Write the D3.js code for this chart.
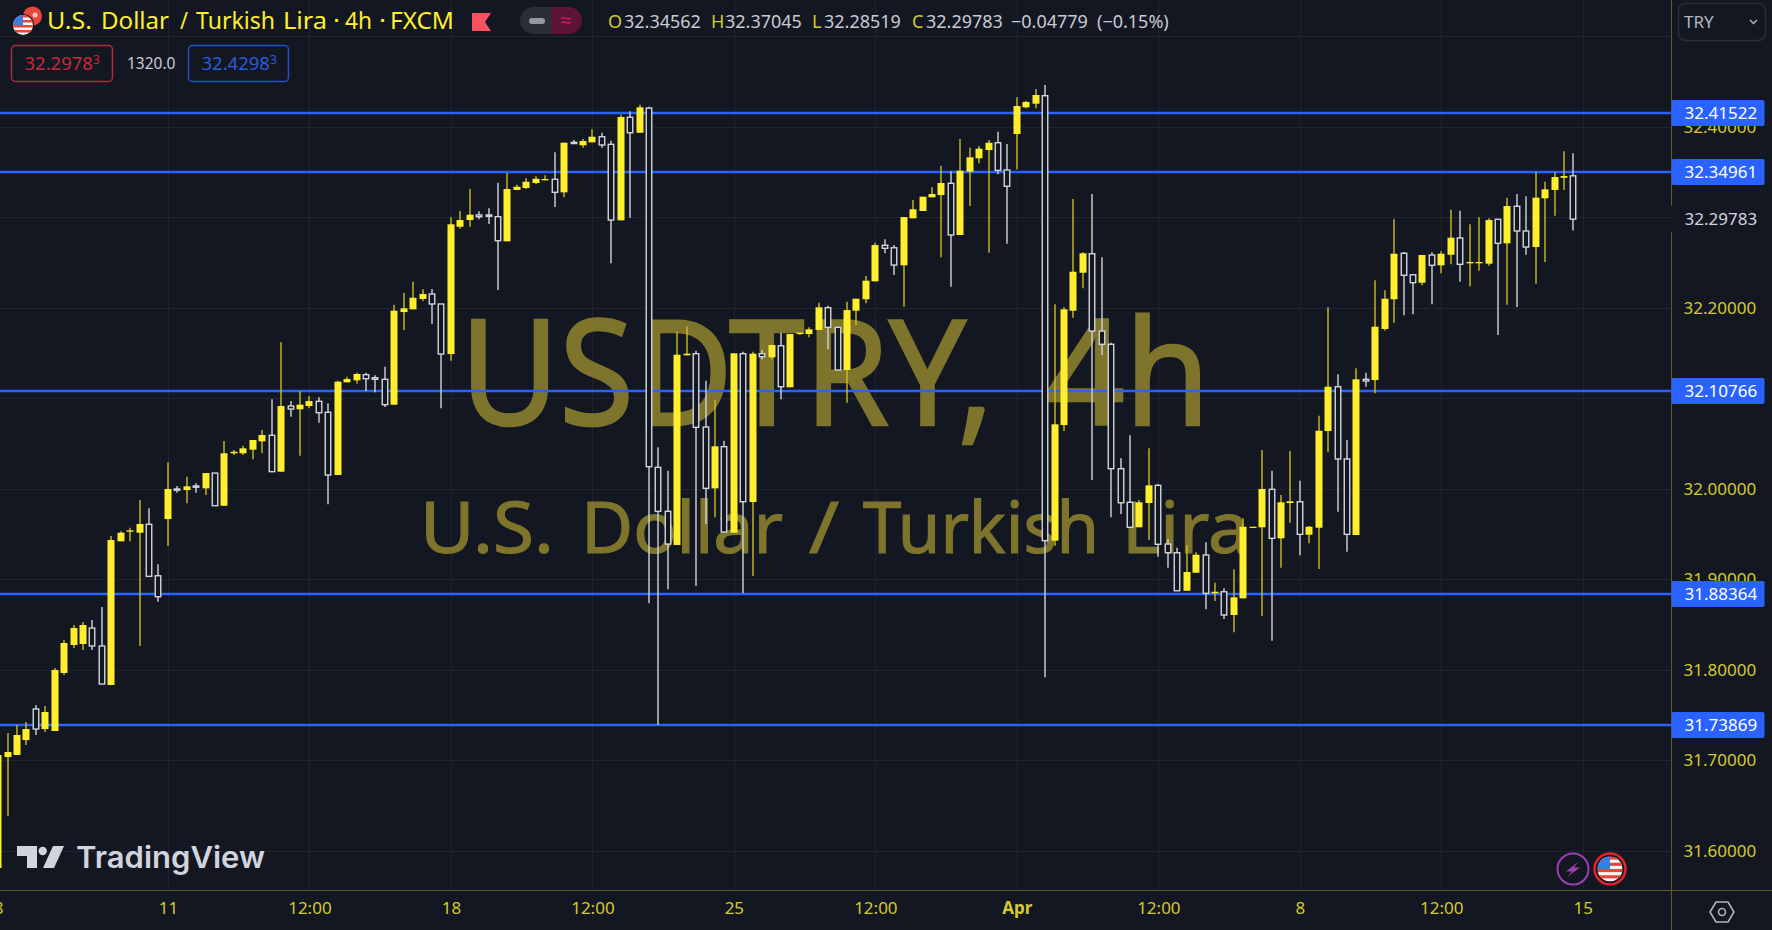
<!DOCTYPE html>
<html>
<head>
<meta charset="utf-8">
<script src="https://cdn.jsdelivr.net/npm/d3@7"></script>
<style>
  html, body { margin: 0; padding: 0; background: #131722; overflow: hidden; }
  svg { display: block; }
  text { font-family: "Noto Sans", sans-serif; }
</style>
</head>
<body>
<svg></svg>
<script>
// Candles, oldest first (USDTRY 4h)
const opens = [31.5812,31.7038,31.7060,31.7225,31.7568,31.7347,31.7325,31.7966,31.8275,31.8286,31.8462,31.8264,31.7833,31.9420,31.9526,31.9515,31.9608,31.9040,31.9666,31.9998,31.9986,32.0031,32.0005,32.0174,31.9813,32.0392,32.0392,32.0432,32.0524,32.0591,32.0189,32.0914,32.0878,32.0914,32.0966,32.0845,32.0152,32.1176,32.1198,32.1260,32.1227,32.1209,32.0929,32.1952,32.1982,32.2096,32.2151,32.2041,32.1488,32.2894,32.2968,32.3024,32.3024,32.3005,32.2733,32.3300,32.3322,32.3377,32.3407,32.3418,32.3274,32.3826,32.3793,32.3826,32.3888,32.3804,32.2965,32.4103,32.3932,32.4205,32.0237,31.9751,31.9379,32.1474,32.1492,32.0682,32.0005,32.0465,31.9515,32.1492,31.9854,32.1492,32.1452,32.1580,32.1121,32.1709,32.1709,32.1754,32.2000,32.1783,32.1312,32.1967,32.2093,32.2291,32.2689,32.2662,32.2468,32.2987,32.3068,32.3219,32.3244,32.3374,32.2803,32.3502,32.3650,32.3741,32.3822,32.3521,32.3918,32.4213,32.4253,32.4341,31.9427,32.0704,32.1967,32.2386,32.2596,32.1742,32.1596,32.0222,31.9851,31.9575,31.9843,32.0038,31.9390,31.9294,31.8874,31.9073,31.9269,31.8846,31.8863,31.8606,31.8790,31.9570,31.9575,31.9994,31.9453,31.9843,31.9857,31.9493,31.9570,32.0638,32.1127,32.0329,31.9489,32.1209,32.1201,32.1765,32.2093,32.2601,32.2364,32.2276,32.2582,32.2468,32.2585,32.2770,32.2490,32.2490,32.2486,32.2976,32.2711,32.3120,32.2847,32.2670,32.3208,32.3300,32.3435,32.34562];
const highs = [31.7060,31.7303,31.7391,31.7424,31.7612,31.7601,31.8021,31.8330,31.8496,31.8529,31.8551,31.8694,31.9478,31.9530,31.9570,31.9876,31.9784,31.9166,32.0292,32.0031,32.0133,32.0060,32.0174,32.0174,32.0528,32.0428,32.0476,32.0539,32.0649,32.0988,32.1618,32.0969,32.1077,32.1025,32.1010,32.0944,32.1194,32.1238,32.1282,32.1282,32.1253,32.1348,32.2033,32.2165,32.2287,32.2203,32.2206,32.2041,32.2998,32.3068,32.3311,32.3064,32.3098,32.3380,32.3487,32.3358,32.3432,32.3451,32.3462,32.3716,32.3822,32.3852,32.3863,32.3970,32.3932,32.3844,32.4131,32.4169,32.4242,32.4220,32.0458,32.0200,32.1735,32.1790,32.1525,32.1194,32.0980,32.0531,32.1496,32.1514,32.1514,32.1533,32.1588,32.1724,32.1709,32.1724,32.1783,32.2055,32.2022,32.1783,32.2066,32.2099,32.2350,32.2718,32.2755,32.2692,32.3001,32.3189,32.3226,32.3329,32.3568,32.3510,32.3863,32.3767,32.3786,32.3852,32.3944,32.3808,32.4323,32.4283,32.4415,32.4459,32.2037,32.2004,32.3200,32.2612,32.3255,32.2556,32.1613,32.0337,32.0591,31.9876,32.0447,32.0053,31.9445,31.9349,31.9379,31.9298,31.9409,31.8963,31.8901,31.9111,31.9674,31.9581,32.0428,32.0200,31.9931,32.0417,32.0089,31.9589,32.0807,32.2004,32.1264,32.0539,32.1331,32.1282,32.2302,32.2192,32.2976,32.2615,32.2372,32.2582,32.2612,32.2623,32.3082,32.3071,32.2921,32.2998,32.2987,32.2976,32.3215,32.3255,32.3230,32.3495,32.3391,32.3495,32.3727,32.37045];
const lows = [31.5812,31.6386,31.7060,31.7170,31.7281,31.7314,31.7325,31.7943,31.8242,31.8219,31.8219,31.7844,31.7833,31.9420,31.9420,31.8264,31.9033,31.8753,31.9368,31.9957,31.9840,31.9957,31.9931,31.9813,31.9813,32.0373,32.0373,32.0325,32.0392,32.0189,32.0189,32.0796,32.0365,32.0889,32.0730,31.9829,32.0152,32.1176,32.1160,32.1080,32.1065,32.0903,32.0929,32.1754,32.1982,32.2074,32.1820,32.0889,32.1414,32.2872,32.2894,32.2976,32.2924,32.2195,32.2733,32.3300,32.3311,32.3366,32.3407,32.3112,32.3219,32.3815,32.3767,32.3826,32.3767,32.2490,32.2965,32.2994,32.3932,31.8735,31.7391,31.8890,31.9379,32.1474,31.8926,31.9611,31.9685,31.9523,31.9515,31.8846,31.9037,32.1430,32.1430,32.0988,32.1121,32.1698,32.1673,32.1754,32.1540,32.1312,32.0951,32.1809,32.2048,32.2291,32.2601,32.2361,32.2011,32.2987,32.3068,32.3219,32.2556,32.2232,32.2803,32.3123,32.3595,32.2607,32.3473,32.2707,32.3528,32.4202,32.4202,31.7918,31.9371,32.0638,32.1889,32.2214,32.0097,32.1477,31.9685,31.9721,31.9575,31.9575,31.9434,31.9250,31.9128,31.8874,31.8874,31.9073,31.8669,31.8761,31.8562,31.8415,31.8790,31.9570,31.8595,31.8322,31.9128,31.9625,31.9265,31.9398,31.9114,32.0403,31.9747,31.9305,31.9489,32.1127,32.1054,32.1746,32.1834,32.1916,32.1927,32.2247,32.2037,32.2380,32.2479,32.2287,32.2236,32.2408,32.2464,32.1698,32.2033,32.2008,32.2585,32.2265,32.2505,32.3016,32.3300,32.28519];
const closes = [31.7060,31.7093,31.7281,31.7347,31.7347,31.7535,31.7999,31.8297,31.8462,31.8496,31.8264,31.7844,31.9434,31.9515,31.9541,31.9611,31.9033,31.8808,31.9998,31.9990,32.0027,32.0020,32.0174,31.9813,32.0392,32.0409,32.0447,32.0539,32.0594,32.0189,32.0914,32.0881,32.0929,32.0969,32.0840,32.0152,32.1183,32.1212,32.1268,32.1216,32.1209,32.0929,32.1967,32.1993,32.2110,32.2151,32.2041,32.1488,32.2921,32.2968,32.3027,32.3005,32.3009,32.2740,32.3311,32.3336,32.3391,32.3424,32.3421,32.3274,32.3822,32.3815,32.3841,32.3888,32.3797,32.2968,32.4106,32.3932,32.4213,32.0244,31.9751,31.9390,32.1481,32.1492,32.0679,32.0005,32.0469,31.9523,32.1496,31.9857,32.1492,32.1459,32.1588,32.1127,32.1709,32.1724,32.1761,32.2004,32.1783,32.1312,32.1974,32.2099,32.2298,32.2692,32.2656,32.2471,32.3001,32.3087,32.3226,32.3255,32.3377,32.2803,32.3513,32.3661,32.3756,32.3822,32.3517,32.3341,32.4227,32.4272,32.4349,31.9427,32.0712,32.1982,32.2397,32.2601,32.1742,32.1596,32.0222,31.9846,31.9575,31.9851,32.0038,31.9387,31.9294,31.8874,31.9081,31.9272,31.8846,31.8863,31.8606,31.8801,31.9581,31.9581,31.9998,31.9453,31.9851,31.9862,31.9497,31.9581,32.0641,32.1127,32.0329,31.9497,32.1209,32.1190,32.1790,32.2099,32.2596,32.2358,32.2276,32.2582,32.2468,32.2596,32.2773,32.2479,32.2505,32.2505,32.2968,32.2711,32.3123,32.2847,32.2670,32.3215,32.3307,32.3443,32.3454,32.29783];

// Horizontal levels drawn by the author
const levels = [32.41522, 32.34961, 32.10766, 31.88364, 31.73869];
const lastPrice = 32.29783;

// Axis ticks
const priceTicks = [31.6, 31.7, 31.8, 31.9, 32.0, 32.1, 32.2, 32.3, 32.4];
const priceGrid = [31.6, 31.7, 31.8, 31.9, 32.0, 32.1, 32.2, 32.3, 32.4, 32.5];
const timeTickIndex = [0, 18, 33, 48, 63, 78, 93, 108, 123, 138, 153, 168];
const timeTickLabels = ["8", "11", "12:00", "18", "12:00", "25", "12:00", "Apr", "12:00", "8", "12:00", "15"];

// Legend values
const legendParts = [
    { x: 608, text: "O", key: true }, { x: 624, text: "32.34562" },
    { x: 711, text: "H", key: true }, { x: 725, text: "32.37045" },
    { x: 812, text: "L", key: true }, { x: 824, text: "32.28519" },
    { x: 912, text: "C", key: true }, { x: 926, text: "32.29783" },
    { x: 1011, text: "\u22120.04779" }, { x: 1097, text: "(\u22120.15%)" }
];

// Header and watermark words, set word by word because the spacing is wide
const headerWords = [
    { x: 47, w: 45, text: "U.S." }, { x: 101, w: 68, text: "Dollar" },
    { x: 180, w: 8, text: "/" }, { x: 196, w: 79, text: "Turkish" },
    { x: 283, w: 44, text: "Lira" }, { x: 333, w: 7, text: "\u00b7" },
    { x: 345, w: 27, text: "4h" }, { x: 379, w: 7, text: "\u00b7" },
    { x: 390, w: 64, text: "FXCM" }
];
const watermarkWords = [
    { x: 420, w: 134, text: "U.S." }, { x: 581, w: 202, text: "Dollar" },
    { x: 809, w: 30, text: "/" }, { x: 863, w: 236, text: "Turkish" },
    { x: 1122, w: 127, text: "Lira" }
];

// Dimensions
const svgWidth = 1772;
const svgHeight = 930;
const plotRight = 1671.5;
const plotBottom = 890;

const bg = "#131722";
const gridColor = "#1f2430";
const axisLine = "#5f5822";
const tickColor = "#d5c92e";
const upColor = "#ffee2e";
const upWick = "#cdbe22";
const downColor = "#d1d4dc";
const levelColor = "#2962ff";
const watermarkColor = "#7e742c";

const svg = d3.select("svg")
    .attr("width", svgWidth)
    .attr("height", svgHeight);

// Scales
const xScale = d3.scaleLinear()
    .domain([0, 167])
    .range([-1.9, 1573.4]);

const yScale = d3.scaleLinear()
    .domain([31.6, 32.2])
    .range([851, 307.7]);

// Grid
svg.append("g").selectAll("line")
    .data(priceGrid)
    .enter().append("line")
    .attr("x1", 0).attr("x2", plotRight)
    .attr("y1", d => Math.round(yScale(d)) + 0.5)
    .attr("y2", d => Math.round(yScale(d)) + 0.5)
    .attr("stroke", gridColor);

svg.append("g").selectAll("line")
    .data(timeTickIndex)
    .enter().append("line")
    .attr("x1", d => Math.round(xScale(d)) + 0.5)
    .attr("x2", d => Math.round(xScale(d)) + 0.5)
    .attr("y1", 0).attr("y2", plotBottom)
    .attr("stroke", gridColor);

// Watermark
svg.append("text")
    .attr("x", 460).attr("y", 425)
    .attr("font-size", 146)
    .attr("textLength", 534)
    .attr("lengthAdjust", "spacingAndGlyphs")
    .attr("fill", watermarkColor)
    .attr("stroke", watermarkColor)
    .attr("stroke-width", 2.5)
    .text("USDTRY,");

svg.append("text")
    .attr("x", 1046).attr("y", 425)
    .attr("font-size", 146)
    .attr("textLength", 164)
    .attr("lengthAdjust", "spacingAndGlyphs")
    .attr("fill", watermarkColor)
    .attr("stroke", watermarkColor)
    .attr("stroke-width", 2.5)
    .text("4h");

svg.append("g").selectAll("text")
    .data(watermarkWords)
    .enter().append("text")
    .attr("x", d => d.x).attr("y", 553)
    .attr("font-size", 72)
    .attr("textLength", d => d.w)
    .attr("lengthAdjust", "spacingAndGlyphs")
    .attr("fill", watermarkColor)
    .attr("stroke", watermarkColor)
    .attr("stroke-width", 1.2)
    .text(d => d.text);

// Level lines
svg.append("g").selectAll("line")
    .data(levels)
    .enter().append("line")
    .attr("x1", 0).attr("x2", plotRight)
    .attr("y1", d => Math.round(yScale(d)))
    .attr("y2", d => Math.round(yScale(d)))
    .attr("stroke", levelColor)
    .attr("stroke-width", 2.4);

// Candles
const candles = d3.range(opens.length).map(i => ({
    i: i, o: opens[i], h: highs[i], l: lows[i], c: closes[i]
}));

const candleGroup = svg.append("g");

function drawCandles() {
    const bars = candleGroup.selectAll(".candle")
        .data(candles)
        .enter().append("g")
        .attr("class", "candle")
        .attr("transform", d => `translate(${Math.round(xScale(d.i))},0)`);

    bars.append("line")
        .attr("y1", d => yScale(d.h))
        .attr("y2", d => yScale(d.l))
        .attr("stroke", d => d.c >= d.o ? upWick : downColor)
        .attr("stroke-width", 1.4);

    bars.append("rect")
        .attr("x", d => d.c >= d.o ? -3.5 : -2.75)
        .attr("width", d => d.c >= d.o ? 7 : 5.5)
        .attr("y", d => yScale(Math.max(d.o, d.c)))
        .attr("height", d => Math.max(1.2, Math.abs(yScale(d.o) - yScale(d.c))))
        .attr("fill", d => d.c >= d.o ? upColor : bg)
        .attr("stroke", d => d.c >= d.o ? "none" : downColor)
        .attr("stroke-width", 1.4);
}
drawCandles();

// Axis panels cover anything running past the plot
svg.append("rect").attr("x", plotRight).attr("y", 0).attr("width", svgWidth - plotRight).attr("height", svgHeight).attr("fill", bg);
svg.append("rect").attr("x", 0).attr("y", plotBottom).attr("width", svgWidth).attr("height", svgHeight - plotBottom).attr("fill", bg);

// Price axis
const yAxis = d3.axisRight(yScale)
    .tickValues(priceTicks)
    .tickFormat(d3.format(".5f"))
    .tickSize(0)
    .tickPadding(12);

const yAxisGroup = svg.append("g")
    .attr("transform", `translate(${plotRight},0)`)
    .call(yAxis);
yAxisGroup.select(".domain").remove();
yAxisGroup.selectAll("text")
    .attr("font-size", 17)
    .attr("fill", tickColor)
    .style("font-family", '"Noto Sans", sans-serif');

// Time axis
const xAxis = d3.axisBottom(xScale)
    .tickValues(timeTickIndex)
    .tickFormat((d, i) => timeTickLabels[i])
    .tickSize(0)
    .tickPadding(12);

const xAxisGroup = svg.append("g")
    .attr("transform", `translate(0,${plotBottom})`)
    .call(xAxis);
xAxisGroup.select(".domain").remove();
xAxisGroup.selectAll("text")
    .attr("font-size", 17)
    .attr("fill", tickColor)
    .attr("font-weight", (d, i) => timeTickLabels[i] === "Apr" ? 700 : 400)
    .style("font-family", '"Noto Sans", sans-serif');

// Axis border lines
svg.append("line").attr("x1", 0).attr("x2", svgWidth).attr("y1", plotBottom + 0.5).attr("y2", plotBottom + 0.5).attr("stroke", axisLine);
svg.append("line").attr("x1", plotRight).attr("x2", plotRight).attr("y1", 0).attr("y2", svgHeight).attr("stroke", axisLine);

// Level tags on the price axis
const tags = svg.append("g").selectAll("g")
    .data(levels)
    .enter().append("g")
    .attr("transform", d => `translate(${plotRight},${Math.round(yScale(d))})`);

tags.append("rect")
    .attr("x", 0).attr("y", -13)
    .attr("width", 93).attr("height", 26)
    .attr("rx", 2)
    .attr("fill", levelColor);

tags.append("text")
    .attr("x", 13).attr("y", 6)
    .attr("font-size", 17)
    .attr("fill", "#ffffff")
    .text(d => d3.format(".5f")(d));

// Last price label
svg.append("rect")
    .attr("x", plotRight - 0.5).attr("y", yScale(lastPrice) - 13)
    .attr("width", 93).attr("height", 26)
    .attr("fill", bg);
svg.append("text")
    .attr("x", plotRight + 13).attr("y", yScale(lastPrice) + 6)
    .attr("font-size", 17)
    .attr("fill", "#d1d4dc")
    .text(d3.format(".5f")(lastPrice));

// Header
svg.append("g").selectAll("text")
    .data(headerWords)
    .enter().append("text")
    .attr("x", d => d.x).attr("y", 29)
    .attr("font-size", 23)
    .attr("textLength", d => d.w)
    .attr("lengthAdjust", "spacingAndGlyphs")
    .attr("fill", upColor)
    .text(d => d.text);

// Header flags
function drawUsFlag(cx, cy, r) {
    const id = `flag${cx}`;
    svg.append("clipPath").attr("id", id)
        .append("circle").attr("cx", cx).attr("cy", cy).attr("r", r);
    const g = svg.append("g").attr("clip-path", `url(#${id})`);
    g.append("rect").attr("x", cx - r).attr("y", cy - r).attr("width", 2 * r).attr("height", 2 * r).attr("fill", "#f5f5f5");
    d3.range(4).forEach(n => {
        g.append("rect").attr("x", cx - r).attr("y", cy - r + n * r / 2).attr("width", 2 * r).attr("height", r / 4).attr("fill", "#e8453c");
    });
    g.append("rect").attr("x", cx - r).attr("y", cy - r).attr("width", r).attr("height", r).attr("fill", "#3b7de0");
}
svg.append("circle").attr("cx", 32.5).attr("cy", 16).attr("r", 9.5).attr("fill", "#e8453c");
svg.append("circle").attr("cx", 35).attr("cy", 15).attr("r", 2.5).attr("fill", "#f7c5c0");
svg.append("circle").attr("cx", 23).attr("cy", 25).attr("r", 11).attr("fill", bg);
drawUsFlag(23, 25, 10);

// Flag marker and the two state pills
svg.append("path")
    .attr("d", "M472,13 H491 L485,22 L491,31 H472 Z")
    .attr("fill", "#f7525f");
svg.append("path")
    .attr("d", "M551,7 H533.5 A13.5,13.5 0 0 0 533.5,34 H551 Z")
    .attr("fill", "#2a2e39");
svg.append("path")
    .attr("d", "M551,7 H568.5 A13.5,13.5 0 0 1 568.5,34 H551 Z")
    .attr("fill", "#5c1337");
svg.append("rect").attr("x", 529).attr("y", 18).attr("width", 16).attr("height", 6).attr("rx", 3).attr("fill", "#9598a1");
svg.append("text").attr("x", 566).attr("y", 27).attr("font-size", 20).attr("text-anchor", "middle").attr("fill", "#d01c5c").text("\u2248");

// OHLC legend
svg.append("g").selectAll("text")
    .data(legendParts)
    .enter().append("text")
    .attr("x", d => d.x).attr("y", 28)
    .attr("font-size", 18)
    .attr("fill", d => d.key ? tickColor : "#c8cbd3")
    .text(d => d.text);

// Bid / ask boxes
function drawQuote(x, width, color, textColor, value) {
    svg.append("rect")
        .attr("x", x).attr("y", 45.5)
        .attr("width", width).attr("height", 36)
        .attr("rx", 4)
        .attr("fill", "none")
        .attr("stroke", color)
        .attr("stroke-width", 1.5);
    const t = svg.append("text")
        .attr("x", x + 13).attr("y", 70)
        .attr("font-size", 18.5)
        .attr("fill", textColor)
        .text(value);
    t.append("tspan").attr("font-size", 12).attr("dy", -6).text("3");
}
drawQuote(11.5, 101, "#b22a3a", "#c9283c", "32.2978");
drawQuote(188.5, 100, "#2251c5", "#2a5bd7", "32.4298");
svg.append("text").attr("x", 127).attr("y", 69).attr("font-size", 15.5).attr("fill", "#c8cbd3").text("1320.0");

// Currency selector
svg.append("rect").attr("x", 1678.5).attr("y", 3.5).attr("width", 87).attr("height", 37).attr("rx", 7).attr("fill", "none").attr("stroke", "#2a2e39").attr("stroke-width", 1.5);
svg.append("text").attr("x", 1684).attr("y", 28).attr("font-size", 17).attr("fill", "#b2b5be").text("TRY");
svg.append("path").attr("d", "M1750,20 L1753.5,23.5 L1757,20").attr("fill", "none").attr("stroke", "#b2b5be").attr("stroke-width", 1.5);

// TradingView logo
svg.append("path").attr("d", "M17,846 H37 V868 H27 V856 H17 Z").attr("fill", "#d1d4dc");
svg.append("circle").attr("cx", 42.7).attr("cy", 851).attr("r", 4.2).attr("fill", "#d1d4dc");
svg.append("path").attr("d", "M53,846 H64 L54,868 H43 Z").attr("fill", "#d1d4dc");
svg.append("text")
    .attr("x", 76).attr("y", 868)
    .attr("font-size", 30)
    .attr("font-weight", 600)
    .attr("textLength", 189)
    .attr("lengthAdjust", "spacingAndGlyphs")
    .attr("fill", "#d1d4dc")
    .style("font-family", "Inter, sans-serif")
    .text("TradingView");

// Event badges
svg.append("circle").attr("cx", 1573).attr("cy", 869).attr("r", 15.5).attr("fill", bg).attr("stroke", "#9c3fb0").attr("stroke-width", 2);
svg.append("path").attr("d", "M1578,862 L1566,871.5 H1572 L1567,877 L1580,867.5 H1574 Z").attr("fill", "#9c3fb0");
svg.append("circle").attr("cx", 1610).attr("cy", 869).attr("r", 15.5).attr("fill", bg).attr("stroke", "#e5232f").attr("stroke-width", 2.5);
drawUsFlag(1610, 869, 12.5);

// Settings hexagon
svg.append("path").attr("d", "M1716,902 H1728 L1734,912 L1728,922 H1716 L1710,912 Z").attr("fill", "none").attr("stroke", "#b2b5be").attr("stroke-width", 1.6);
svg.append("circle").attr("cx", 1722).attr("cy", 912).attr("r", 3.5).attr("fill", "none").attr("stroke", "#b2b5be").attr("stroke-width", 1.6);
</script>
</body>
</html>
